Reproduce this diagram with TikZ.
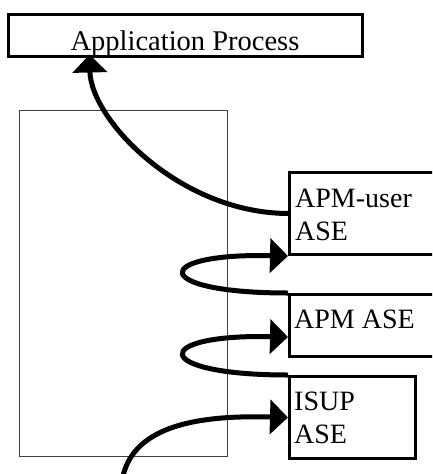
\documentclass[tikz,border=0pt]{standalone}
\usepackage{fontspec}
\setmainfont{Liberation Serif}
\usetikzlibrary{arrows.meta,calc}
\begin{document}
\begin{tikzpicture}[x=1pt,y=-1pt,
  frame/.style={draw, line width=3pt, inner sep=0pt},
  lbl/.style={font=\fontsize{28}{33}\selectfont, inner sep=0pt, anchor=base west},
  flow/.style={line width=5pt, -{Triangle[length=18pt,width=34pt]}}]
\useasboundingbox (0,0) rectangle (432,474);
\clip (0,0) rectangle (432,474);
% application process on top
\node[frame, minimum width=354, text height=36pt, text depth=6pt, anchor=base,
      font=\fontsize{28.5}{33}\selectfont] (ap) at (185,50) {Application Process};
% thin enclosing frame
\node[draw=black!75, line width=1pt, inner sep=0pt, minimum width=208,
      minimum height=346, anchor=north west] (stack) at (19,110) {};
% service elements
\node[frame, minimum width=160, minimum height=82, anchor=north west] (user) at (288,171) {};
\node[frame, minimum width=160, minimum height=62, anchor=north west] (apm) at (288,293) {};
\node[frame, minimum width=126, minimum height=82, anchor=north west] (isup) at (288,375) {};
\node[lbl] (userA) at (295,207) {APM-user};
\node[lbl] (userB) at (295,240) {ASE};
\node[lbl] (apmA) at (294,328) {APM ASE};
\node[lbl] (isupA) at (294,410) {ISUP};
\node[lbl] (isupB) at (294,443) {ASE};
% entry point at the bottom edge
\coordinate (in) at (123,476);
% flows
\draw[flow] (user.west) .. controls (180,213) and (91,120) .. ($(ap.south west)+(83,-3)$);
\draw[flow] (apm.north west) .. controls (150,293) and (150,253) .. (user.south west);
\draw[flow] (isup.north west) .. controls (150,375) and (150,334) .. ($(apm.south west)+(0,-21)$);
\draw[flow] (in) .. controls (135,425) and (200,415) .. (isup.west);
\end{tikzpicture}
\end{document}
